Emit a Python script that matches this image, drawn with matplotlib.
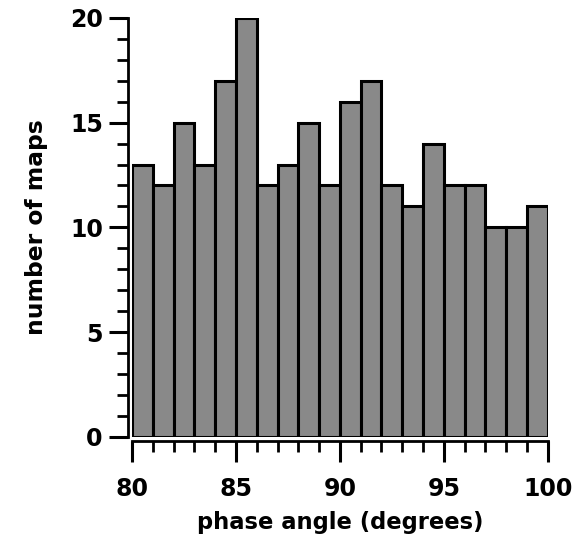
import numpy as np
import matplotlib
matplotlib.use("Agg")
import matplotlib.pyplot as plt
from matplotlib.ticker import MultipleLocator

# histogram of phase angles, 1 degree bins from 80 to 100
bin_edges = list(range(80, 101))
counts = [13, 12, 15, 13, 17, 20, 12, 13, 15, 12, 16, 17, 12, 11, 14, 12, 12, 10, 10, 11]

plt.rcParams['font.family'] = ['DejaVu Sans']

fig = plt.figure(figsize=(5.84, 5.42), dpi=100)
ax = fig.add_axes([0.226, 0.194, 0.712, 0.773])

ax.bar(bin_edges[:-1], counts, width=1.0, align='edge',
       color='#898989', edgecolor='black', linewidth=2.2)

ax.set_xlim(80, 100)
ax.set_ylim(0, 20)

ax.spines['top'].set_visible(False)
ax.spines['right'].set_visible(False)
ax.spines['left'].set_position(('outward', 3))
ax.spines['bottom'].set_position(('outward', 3))
ax.spines['left'].set_linewidth(2)
ax.spines['bottom'].set_linewidth(2)

ax.xaxis.set_major_locator(MultipleLocator(5))
ax.xaxis.set_minor_locator(MultipleLocator(1))
ax.yaxis.set_major_locator(MultipleLocator(5))
ax.yaxis.set_minor_locator(MultipleLocator(1))
ax.tick_params(axis='x', which='major', length=15, width=2.2, labelsize=17, pad=11)
ax.tick_params(axis='x', which='minor', length=8, width=2)
ax.tick_params(axis='y', which='major', length=14, width=2.2, labelsize=17, pad=4)
ax.tick_params(axis='y', which='minor', length=8, width=2)
for lab in ax.get_xticklabels() + ax.get_yticklabels():
    lab.set_fontweight('bold')

ax.set_xlabel('phase angle (degrees)', fontsize=16.3, fontweight='bold', labelpad=7)
ax.set_ylabel('number of maps', fontsize=16.8, fontweight='bold', labelpad=16)

fig.savefig('out.png', dpi=100)
